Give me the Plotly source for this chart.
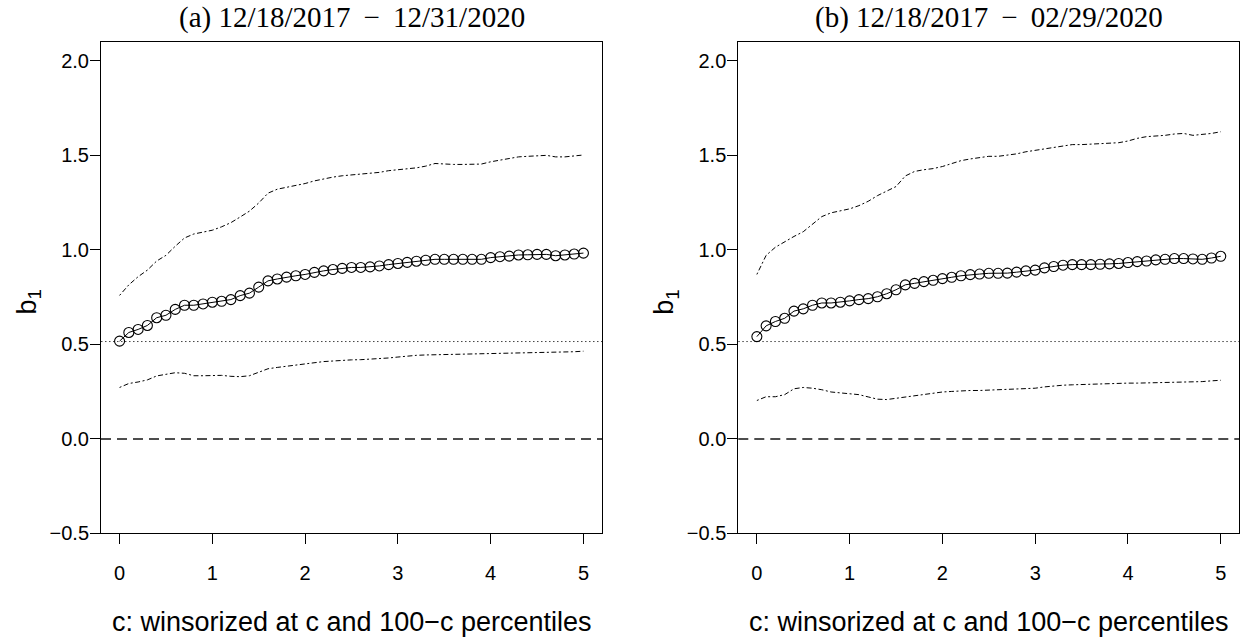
import plotly.graph_objects as go

# winsorizing level c (percent), shared by both panels
c_grid = [0.0, 0.1, 0.2, 0.3, 0.4, 0.5, 0.6, 0.7, 0.8, 0.9,
          1.0, 1.1, 1.2, 1.3, 1.4, 1.5, 1.6, 1.7, 1.8, 1.9,
          2.0, 2.1, 2.2, 2.3, 2.4, 2.5, 2.6, 2.7, 2.8, 2.9,
          3.0, 3.1, 3.2, 3.3, 3.4, 3.5, 3.6, 3.7, 3.8, 3.9,
          4.0, 4.1, 4.2, 4.3, 4.4, 4.5, 4.6, 4.7, 4.8, 4.9, 5.0]

# panel (a): 12/18/2017 - 12/31/2020
b1_a = [0.517, 0.563, 0.579, 0.600, 0.641, 0.654, 0.685, 0.707, 0.707, 0.714,
        0.723, 0.728, 0.737, 0.758, 0.771, 0.803, 0.836, 0.846, 0.856, 0.863,
        0.870, 0.881, 0.889, 0.896, 0.902, 0.907, 0.907, 0.910, 0.915, 0.922,
        0.928, 0.934, 0.940, 0.945, 0.950, 0.950, 0.950, 0.950, 0.950, 0.950,
        0.959, 0.964, 0.967, 0.973, 0.974, 0.976, 0.976, 0.969, 0.973, 0.978, 0.983]
upper_a = [0.759, 0.815, 0.858, 0.893, 0.941, 0.971, 1.019, 1.063, 1.084, 1.092,
           1.104, 1.122, 1.144, 1.174, 1.205, 1.248, 1.300, 1.321, 1.330, 1.339,
           1.351, 1.365, 1.377, 1.385, 1.392, 1.396, 1.400, 1.403, 1.410, 1.419,
           1.426, 1.429, 1.434, 1.443, 1.457, 1.454, 1.452, 1.452, 1.452, 1.454,
           1.466, 1.474, 1.483, 1.492, 1.495, 1.499, 1.500, 1.492, 1.492, 1.497, 1.502]
lower_a = [0.272, 0.293, 0.301, 0.312, 0.333, 0.343, 0.350, 0.347, 0.334, 0.334,
           0.336, 0.336, 0.331, 0.329, 0.334, 0.353, 0.371, 0.378, 0.385, 0.392,
           0.399, 0.405, 0.409, 0.412, 0.416, 0.418, 0.419, 0.421, 0.425, 0.428,
           0.433, 0.438, 0.442, 0.444, 0.445, 0.445, 0.447, 0.447, 0.449, 0.449,
           0.451, 0.452, 0.452, 0.454, 0.454, 0.454, 0.456, 0.456, 0.458, 0.461, 0.464]

# panel (b): 12/18/2017 - 02/29/2020
b1_b = [0.541, 0.598, 0.621, 0.638, 0.676, 0.688, 0.707, 0.719, 0.719, 0.723,
        0.730, 0.737, 0.742, 0.752, 0.768, 0.789, 0.815, 0.823, 0.832, 0.839,
        0.848, 0.855, 0.863, 0.869, 0.872, 0.876, 0.876, 0.877, 0.882, 0.889,
        0.893, 0.905, 0.912, 0.919, 0.922, 0.922, 0.922, 0.924, 0.926, 0.928,
        0.933, 0.938, 0.941, 0.947, 0.950, 0.954, 0.954, 0.952, 0.950, 0.957, 0.966]
upper_b = [0.870, 0.971, 1.014, 1.044, 1.071, 1.096, 1.136, 1.176, 1.196, 1.205,
           1.217, 1.234, 1.257, 1.287, 1.313, 1.335, 1.391, 1.415, 1.424, 1.430,
           1.441, 1.457, 1.472, 1.481, 1.490, 1.495, 1.495, 1.500, 1.508, 1.519,
           1.526, 1.533, 1.541, 1.550, 1.557, 1.557, 1.559, 1.561, 1.564, 1.567,
           1.576, 1.590, 1.599, 1.602, 1.606, 1.613, 1.616, 1.606, 1.609, 1.616, 1.625]
lower_b = [0.203, 0.223, 0.223, 0.234, 0.265, 0.272, 0.268, 0.260, 0.248, 0.244,
           0.242, 0.234, 0.222, 0.210, 0.208, 0.215, 0.222, 0.229, 0.237, 0.242,
           0.248, 0.251, 0.255, 0.256, 0.256, 0.258, 0.260, 0.262, 0.263, 0.265,
           0.268, 0.275, 0.281, 0.284, 0.286, 0.288, 0.289, 0.291, 0.293, 0.295,
           0.295, 0.295, 0.296, 0.296, 0.298, 0.298, 0.300, 0.301, 0.303, 0.307, 0.310]

# horizontal reference levels
ref_level = 0.515
zero_level = 0.0

panel_titles = ["(a) 12/18/2017 \u2009\u2212\u2009 12/31/2020",
                "(b) 12/18/2017 \u2009\u2212\u2009 02/29/2020"]
x_title = "c: winsorized at c and 100\u2212c percentiles"
y_title = "b<sub>1</sub>"

x_ticks = [0, 1, 2, 3, 4, 5]
y_ticks = [-0.5, 0.0, 0.5, 1.0, 1.5, 2.0]
y_ticktext = ["\u22120.5", "0.0", "0.5", "1.0", "1.5", "2.0"]
x_range = [-0.2, 5.2]
y_range = [-0.5, 2.1]

W, H = 1243, 640
SANS = "Liberation Sans, Arial, sans-serif"
SERIF = "Liberation Serif, Times New Roman, serif"

# plot boxes in pixels (left, right), shared top/bottom
boxes = [(101.0, 602.0), (738.3, 1239.3)]
box_top, box_bottom = 42.7, 542.7

fig = go.Figure()

panels = [(b1_a, upper_a, lower_a), (b1_b, upper_b, lower_b)]
for i, (mid, up, lo) in enumerate(panels):
    xa = "x" if i == 0 else "x2"
    ya = "y" if i == 0 else "y2"
    band_line = dict(color="black", width=1, dash="2px,2.5px,5px,2.5px")
    fig.add_trace(go.Scatter(x=c_grid, y=up, mode="lines", line=band_line,
                             xaxis=xa, yaxis=ya, showlegend=False))
    fig.add_trace(go.Scatter(x=c_grid, y=lo, mode="lines", line=band_line,
                             xaxis=xa, yaxis=ya, showlegend=False))
    fig.add_trace(go.Scatter(x=c_grid, y=mid, mode="lines+markers",
                             line=dict(color="black", width=1),
                             marker=dict(symbol="circle-open", size=10,
                                         color="black", line=dict(width=1.1)),
                             xaxis=xa, yaxis=ya, showlegend=False))

axis_common = dict(showline=True, mirror=True, linecolor="black", linewidth=1,
                   ticks="outside", ticklen=10, tickwidth=1, tickcolor="black",
                   showgrid=False, zeroline=False,
                   tickfont=dict(family=SANS, size=20, color="black"))

layout = dict(width=W, height=H, margin=dict(l=0, r=0, t=0, b=0),
              paper_bgcolor="white", plot_bgcolor="white", showlegend=False)

ydom = [(H - box_bottom) / H, (H - box_top) / H]
shapes = []
annotations = []
for i, (bl, br) in enumerate(boxes):
    sfx = "" if i == 0 else "2"
    layout["xaxis" + sfx] = dict(axis_common, domain=[bl / W, br / W], range=x_range,
                                 tickvals=x_ticks, ticktext=[str(t) for t in x_ticks],
                                 anchor="y" + sfx, ticklabelstandoff=12)
    layout["yaxis" + sfx] = dict(axis_common, domain=ydom, range=y_range,
                                 tickvals=y_ticks, ticktext=y_ticktext,
                                 anchor="x" + sfx, ticklabelstandoff=-3)
    xr = "x" + sfx + " domain"
    yr = "y" + sfx
    shapes.append(dict(type="line", xref=xr, yref=yr, x0=0, x1=1,
                       y0=zero_level, y1=zero_level, layer="below",
                       line=dict(color="#4d4d4d", width=2, dash="10px,6px")))
    shapes.append(dict(type="line", xref=xr, yref=yr, x0=0, x1=1,
                       y0=ref_level, y1=ref_level, layer="below",
                       line=dict(color="#444444", width=1, dash="1.5px,2.5px")))
    cx = (bl + br) / 2 / W
    annotations.append(dict(text=panel_titles[i], xref="paper", yref="paper",
                            x=cx, y=1.0, xanchor="center", yanchor="top",
                            showarrow=False, borderpad=0,
                            font=dict(family=SERIF, size=29, color="black")))
    annotations.append(dict(text=x_title, xref="paper", yref="paper",
                            x=cx, y=(H - 633) / H, xanchor="center", yanchor="middle",
                            showarrow=False,
                            font=dict(family=SANS, size=27, color="black")))
    annotations.append(dict(text=y_title, xref="paper", yref="paper",
                            x=(bl - 72) / W, y=(H - (box_top + box_bottom) / 2 - 14) / H,
                            xanchor="center", yanchor="middle", textangle=-90,
                            showarrow=False,
                            font=dict(family=SANS, size=27, color="black")))

layout["shapes"] = shapes
layout["annotations"] = annotations
fig.update_layout(**layout)

fig.write_html("out.html")
